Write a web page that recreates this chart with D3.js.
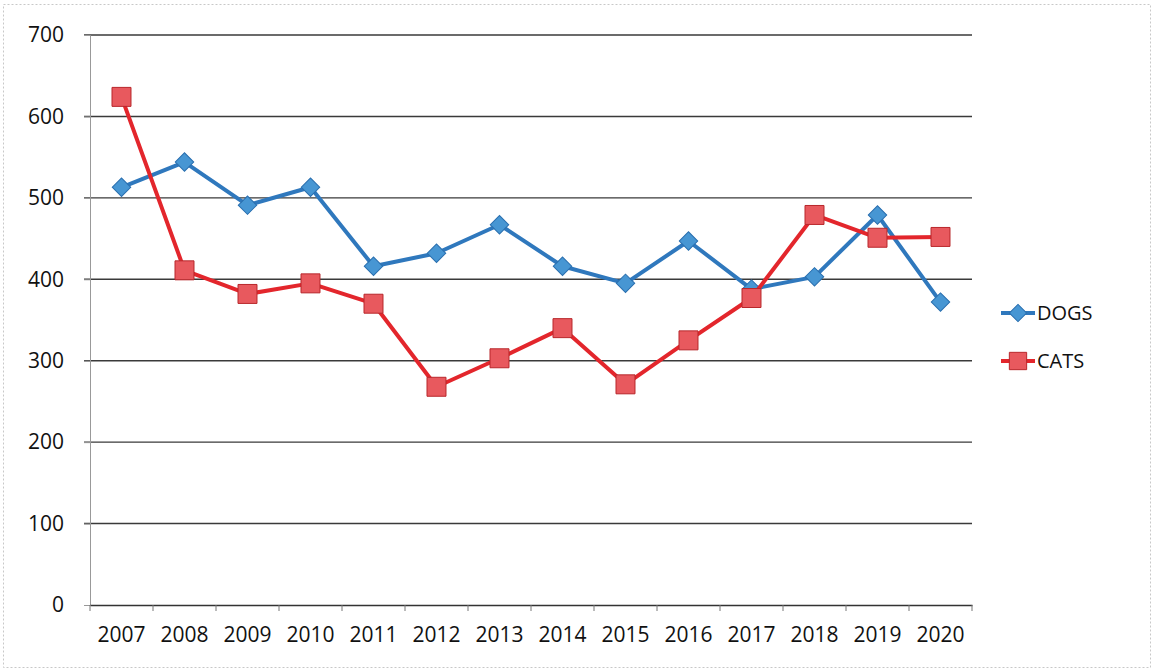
<!DOCTYPE html>
<html>
<head>
<meta charset="utf-8">
<script src="https://cdn.jsdelivr.net/npm/d3@7"></script>
<style>
  body { margin: 0; background: #fff; }
  text { font-family: "Open Sans", "Liberation Sans", sans-serif; fill: #111; }
</style>
</head>
<body>
<script>
const width = 1155;
const height = 671;

const years = ["2007", "2008", "2009", "2010", "2011", "2012", "2013", "2014", "2015", "2016", "2017", "2018", "2019", "2020"];
const dogs = [513, 544, 491, 513, 416, 432, 467, 416, 395, 447, 388, 403, 479, 372];
const cats = [624, 411, 382, 395, 370, 268, 303, 340, 271, 325, 377, 479, 451, 452];
const yTicks = [0, 100, 200, 300, 400, 500, 600, 700];

const margin = { left: 90, right: 183, top: 35, bottom: 66 };

const x = d3.scaleBand()
  .domain(years)
  .range([margin.left, width - margin.right]);

const y = d3.scaleLinear()
  .domain([0, 700])
  .range([height - margin.bottom, margin.top]);

const svg = d3.select("body")
  .append("svg")
  .attr("width", width)
  .attr("height", height);

// faint outer frame
svg.append("rect")
  .attr("x", 3.5).attr("y", 4.5)
  .attr("width", width - 8).attr("height", height - 8)
  .attr("fill", "none")
  .attr("stroke", "#c8c8c8")
  .attr("stroke-dasharray", "2,2");

// gridlines
svg.append("g")
  .selectAll("line")
  .data(yTicks.filter(d => d > 0))
  .join("line")
  .attr("x1", margin.left - 6)
  .attr("x2", width - margin.right)
  .attr("y1", d => y(d))
  .attr("y2", d => y(d))
  .attr("stroke", "#3a3a3a")
  .attr("stroke-width", 1.4);

// y axis
const yAxis = svg.append("g")
  .attr("transform", `translate(${margin.left},0)`)
  .call(d3.axisLeft(y).tickValues(yTicks).tickSize(6).tickPadding(20));
yAxis.select(".domain").attr("stroke", "#999");
yAxis.selectAll(".tick line").attr("stroke", "#999");
yAxis.selectAll("text").style("font-size", "21px").attr("fill", "#111");

// x axis
const xAxis = svg.append("g")
  .attr("transform", `translate(0,${y(0)})`)
  .call(d3.axisBottom(x).tickSize(0).tickPadding(22));
xAxis.select(".domain").attr("stroke", "#333").attr("stroke-width", 1.4);
xAxis.selectAll("text").style("font-size", "21px").attr("fill", "#111");

// tick marks between categories
const bounds = years.map(d => x(d)).concat([x(years[years.length - 1]) + x.bandwidth()]);
svg.append("g")
  .selectAll("line")
  .data(bounds)
  .join("line")
  .attr("x1", d => d).attr("x2", d => d)
  .attr("y1", y(0)).attr("y2", y(0) + 6)
  .attr("stroke", "#777");

const cx = d => x(d) + x.bandwidth() / 2;

const series = [
  { name: "DOGS", values: dogs, line: "#2f78bd", fill: "#4796d3", stroke: "#2a6faf", square: false },
  { name: "CATS", values: cats, line: "#e3262c", fill: "#e8595e", stroke: "#b8272b", square: true }
];

// diamond = square rotated 45 degrees
const marker = (s, area) => d3.symbol(d3.symbolSquare, area)();

const line = d3.line()
  .x(d => cx(d.year))
  .y(d => y(d.value));

series.forEach(s => {
  const pts = years.map((year, i) => ({ year, value: s.values[i] }));
  svg.append("path")
    .datum(pts)
    .attr("fill", "none")
    .attr("stroke", s.line)
    .attr("stroke-width", 4)
    .attr("stroke-linejoin", "round")
    .attr("d", line);

  svg.append("g")
    .selectAll("path")
    .data(pts)
    .join("path")
    .attr("transform", d => `translate(${cx(d.year)},${y(d.value)}) rotate(${s.square ? 0 : 45})`)
    .attr("d", marker(s, s.square ? 360 : 170))
    .attr("fill", s.fill)
    .attr("stroke", s.stroke)
    .attr("stroke-width", 1);
});

// legend
const legend = svg.append("g")
  .selectAll("g")
  .data(series)
  .join("g")
  .attr("transform", (d, i) => `translate(1013,${313 + i * 48})`);

legend.append("line")
  .attr("x1", -12).attr("x2", 22)
  .attr("stroke", d => d.line)
  .attr("stroke-width", 4);

legend.append("path")
  .attr("transform", d => `translate(5,0) rotate(${d.square ? 0 : 45})`)
  .attr("d", d => marker(d, d.square ? 300 : 150))
  .attr("fill", d => d.fill)
  .attr("stroke", d => d.stroke);

legend.append("text")
  .attr("x", 24)
  .attr("dy", "0.35em")
  .style("font-size", "20px")
  .text(d => d.name);
</script>
</body>
</html>
